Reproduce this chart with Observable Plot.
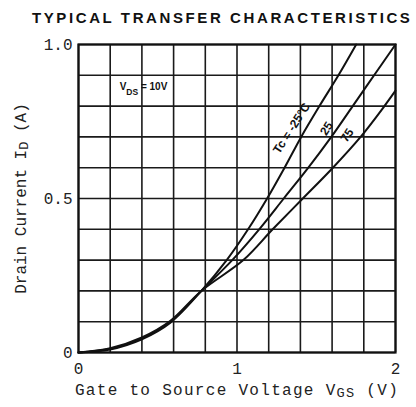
<!DOCTYPE html>
<html>
<head>
<meta charset="utf-8">
<script src="https://cdn.jsdelivr.net/npm/d3@7"></script>
<script src="https://cdn.jsdelivr.net/npm/@observablehq/plot@0.6"></script>
<style>
  html, body { margin: 0; padding: 0; background: #fff; }
  #title { width: 416px; height: 30px; box-sizing: border-box; padding-left: 32px; padding-top: 10px;
    font: bold 15px "Liberation Sans", Arial, sans-serif; letter-spacing: 2.6px; color: #111; white-space: nowrap; line-height: 16px; }
</style>
</head>
<body>
<div id="title"></div>
<div id="chart"></div>
<script>
const title = "TYPICAL TRANSFER CHARACTERISTICS";
const xLabel = "Gate to Source Voltage VGS (V)";
const yLabel = "Drain Current ID (A)";
const xTicks = [0, 1, 2];
const yTicks = [0, 0.5, 1.0];
const gridV = [0, 0.2, 0.4, 0.6, 0.8, 1.0, 1.2, 1.4, 1.6, 1.8, 2.0];
const gridI = [0, 0.1, 0.2, 0.3, 0.4, 0.5, 0.6, 0.7, 0.8, 0.9, 1.0];

// Tc = -25 °C
const vgsM25 = [0, 0.2, 0.4, 0.58, 0.775, 0.935, 1.07, 1.19, 1.30, 1.405, 1.52, 1.64, 1.752];
const idM25  = [0, 0.010, 0.043, 0.097, 0.2, 0.3, 0.4, 0.5, 0.6, 0.7, 0.8, 0.9, 1.0];
// Tc = 25 °C
const vgs25 = [0, 0.2, 0.4, 0.58, 0.775, 0.97, 1.14, 1.295, 1.45, 1.595, 1.73, 1.865, 2.0];
const id25  = [0, 0.012, 0.046, 0.100, 0.2, 0.3, 0.4, 0.5, 0.6, 0.7, 0.8, 0.9, 1.0];
// Tc = 75 °C
const vgs75 = [0, 0.2, 0.4, 0.58, 0.775, 1.04, 1.225, 1.415, 1.605, 1.78, 1.93, 2.0];
const id75  = [0, 0.014, 0.049, 0.103, 0.2, 0.3, 0.4, 0.5, 0.6, 0.7, 0.8, 0.85];

const curveLabels = ["Tc = -25°C", "25", "75"];
const curveLabelV = [1.345, 1.565, 1.695];
const curveLabelI = [0.728, 0.727, 0.705];
const condText = "VDS = 10V";
const condV = 0.41, condI = 0.864;

document.getElementById("title").textContent = title;

const toRows = (vs, is) => vs.map((v, i) => ({v, i: is[i]}));
const series = [toRows(vgsM25, idM25), toRows(vgs25, id25), toRows(vgs75, id75)];
const labelRows = curveLabels.map((t, k) => ({t, v: curveLabelV[k], i: curveLabelI[k]}));

const chart = Plot.plot({
  width: 416,
  height: 377,
  marginTop: 14,
  marginBottom: 55,
  marginLeft: 78,
  marginRight: 21,
  style: {fontFamily: "'Liberation Mono', monospace", fontSize: "15px", color: "#222", background: "#fff"},
  x: {domain: [0, 2]},
  y: {domain: [0, 1]},
  marks: [
    Plot.gridX(gridV, {stroke: "#1a1a1a", strokeOpacity: 1, strokeWidth: 1.6}),
    Plot.gridY(gridI, {stroke: "#1a1a1a", strokeOpacity: 1, strokeWidth: 1.6}),
    Plot.frame({stroke: "#111", strokeWidth: 2.2}),
    Plot.axisX({ticks: xTicks, tickSize: 0, tickPadding: 10, tickFormat: d => String(d), fontSize: 16,
      label: xLabel, labelAnchor: "center", labelOffset: 42}),
    Plot.axisY({ticks: yTicks, tickSize: 0, tickPadding: 6, tickFormat: d => d === 0 ? "0" : d.toFixed(1), fontSize: 16,
      label: yLabel, labelAnchor: "center", labelOffset: 64}),
    ...series.map(s => Plot.line(s, {x: "v", y: "i", stroke: "#111", strokeWidth: 2, curve: "catmull-rom"})),
    Plot.text(labelRows, {x: "v", y: "i", text: "t", rotate: -57, fontSize: 12, fontWeight: "bold",
      fontFamily: "'Liberation Sans', sans-serif", fill: "#111"}),
    Plot.text([condText], {x: condV, y: condI, text: d => d, fontSize: 10, fontWeight: "bold",
      fontFamily: "'Liberation Sans', sans-serif", fill: "#111"})
  ]
});
document.getElementById("chart").appendChild(chart);

// rebuild labels with subscripts (and without axis arrows)
const sub = (start, base, subText, rest, shift, extraStyle) => {
  chart.querySelectorAll("text").forEach(t => {
    if (t.textContent.startsWith(start)) {
      t.innerHTML = base + '<tspan baseline-shift="' + shift + '" font-size="85%">' + subText + '</tspan>' + rest;
      if (extraStyle) t.setAttribute("style", extraStyle);
    }
  });
};
sub("Gate to Source", "Gate to Source Voltage V", "GS", " (V)", "-15%", "letter-spacing:1.3px");
sub("Drain Current", "Drain Current I", "D", " (A)", "-15%");
sub("VDS", "V", "DS", " = 10V", "sub");
</script>
</body>
</html>
